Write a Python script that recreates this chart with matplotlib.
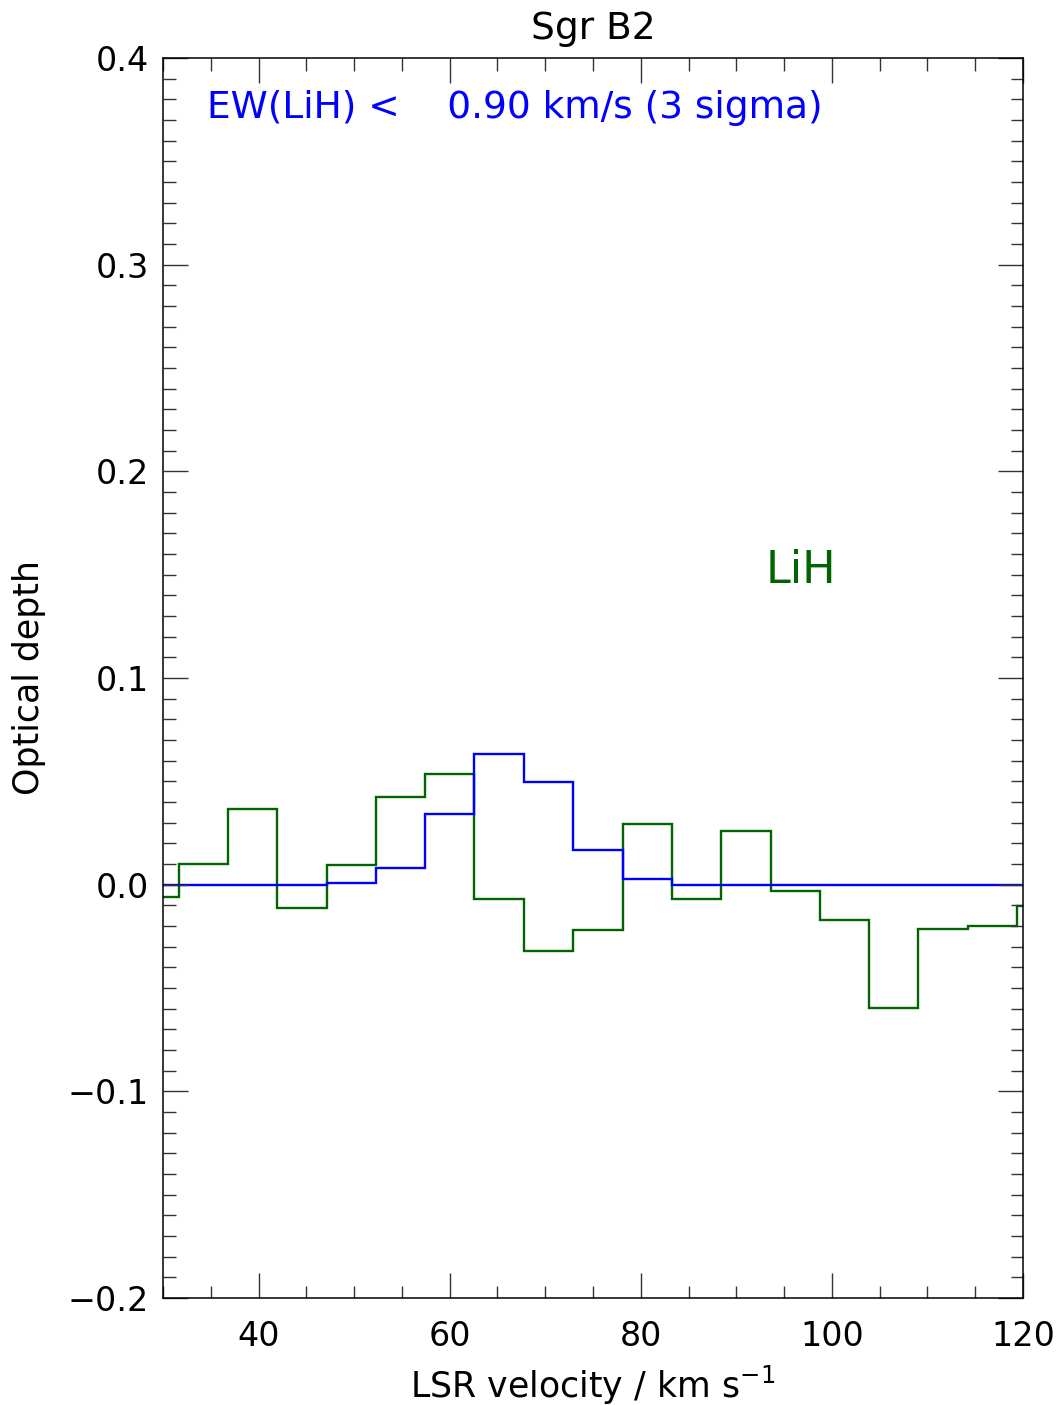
import matplotlib
matplotlib.use("Agg")
import matplotlib.pyplot as plt
from matplotlib.ticker import MultipleLocator

# bin edges (km/s) and optical depth per bin
edges = [26.5, 31.67, 36.83, 41.96, 47.13, 52.29, 57.45, 62.58, 67.78, 72.94,
         78.11, 83.27, 88.40, 93.60, 98.76, 103.88, 109.04, 114.24, 119.40, 124.6]
tau_lih = [-0.0058, 0.0100, 0.0368, -0.0111, 0.0095, 0.0424, 0.0534, -0.0068,
           -0.0319, -0.0221, 0.0292, -0.0069, 0.0260, -0.0030, -0.0169, -0.0598,
           -0.0214, -0.0200, -0.0102]
tau_fit = [0.0, 0.0, 0.0, 0.0, 0.0008, 0.0079, 0.0342, 0.0631, 0.0495, 0.0166,
           0.0025, 0.0, 0.0, 0.0, 0.0, 0.0, 0.0, 0.0, 0.0]

plt.rcParams["font.family"] = ["DejaVu Sans"]

fig = plt.figure(figsize=(10.62, 14.05), dpi=100)
ax = fig.add_axes([0.1535, 0.0762, 0.8098, 0.8825])

ax.stairs(tau_lih, edges, color="#006400", linewidth=1.7)
ax.stairs(tau_fit, edges, color="#0000ff", linewidth=1.7)

ax.set_xlim(30, 120)
ax.set_ylim(-0.2, 0.4)
ax.xaxis.set_major_locator(MultipleLocator(20))
ax.xaxis.set_minor_locator(MultipleLocator(5))
ax.yaxis.set_major_locator(MultipleLocator(0.1))
ax.yaxis.set_minor_locator(MultipleLocator(0.01))
ax.set_yticks([-0.2, -0.1, 0.0, 0.1, 0.2, 0.3, 0.4])
ax.set_yticklabels(["\u22120.2", "\u22120.1", "0.0", "0.1", "0.2", "0.3", "0.4"])

ax.tick_params(which="both", direction="in", top=True, right=True,
               labelsize=24, width=1.0, color="#333333")
ax.tick_params(which="major", length=18)
ax.tick_params(which="minor", length=9)
ax.tick_params(axis="x", pad=16)
ax.tick_params(axis="y", pad=10)
for s in ax.spines.values():
    s.set_linewidth(1.1)

ax.set_title("Sgr B2", fontsize=27, pad=14)
ax.set_xlabel("LSR velocity / km s$^{-1}$", fontsize=25, labelpad=8)
ax.set_ylabel("Optical depth", fontsize=25, labelpad=16)

ax.text(34.6, 0.376, "EW(LiH) <    0.90 km/s (3 sigma)", color="#0000ff",
        fontsize=27, va="center", ha="left")
ax.text(93.1, 0.152, "LiH", color="#006400", fontsize=32, va="center", ha="left")

fig.savefig("out.png", dpi=100)
